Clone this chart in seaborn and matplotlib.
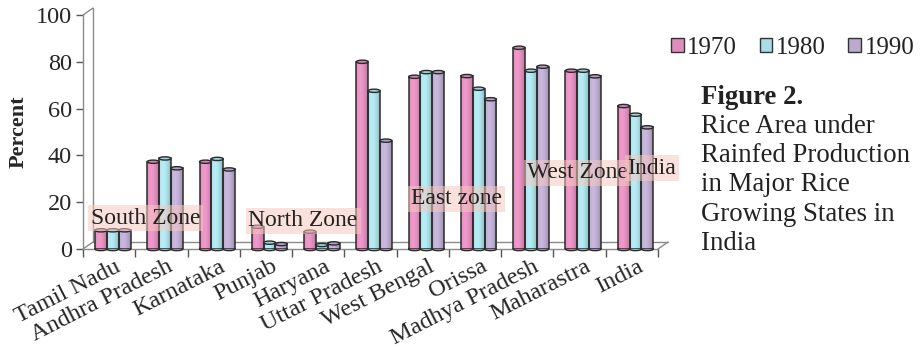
import numpy as np
import pandas as pd
import matplotlib
matplotlib.use("Agg")
import matplotlib.pyplot as plt
from matplotlib.patches import Rectangle, Ellipse
from matplotlib.transforms import ScaledTranslation
from matplotlib.colors import to_rgb
import seaborn as sns

# ---- data -------------------------------------------------------------
states = ["Tamil Nadu", "Andhra Pradesh", "Karnataka", "Punjab", "Haryana",
          "Uttar Pradesh", "West Bengal", "Orissa", "Madhya Pradesh",
          "Maharastra", "India"]
years = ["1970", "1980", "1990"]
pct_1970 = [8.0, 37.3, 37.3, 9.5, 7.4, 80.0, 73.6, 73.9, 86.0, 76.2, 61.1]
pct_1980 = [8.0, 38.7, 38.5, 2.7, 1.7, 67.6, 75.6, 68.5, 76.2, 76.2, 57.4]
pct_1990 = [8.0, 34.5, 34.0, 2.1, 2.4, 46.3, 75.6, 64.0, 77.9, 73.8, 52.0]
yticks = [0, 20, 40, 60, 80, 100]
zones = ["South Zone", "North Zone", "East zone", "West Zone", "India"]
caption_title = "Figure 2."
caption_lines = ["Rice Area under", "Rainfed Production", "in Major Rice",
                 "Growing States in", "India"]

colors = ["#DE8DBB", "#A9DCE3", "#BAAACE"]

df = pd.DataFrame({
    "state": states * 3,
    "year": sum([[y] * len(states) for y in years], []),
    "pct": pct_1970 + pct_1980 + pct_1990,
})

sns.set_theme(style="white")
plt.rcParams["font.family"] = ["Liberation Serif", "DejaVu Serif"]
plt.rcParams["text.color"] = "#222222"

fig = plt.figure(figsize=(9.24, 3.5), dpi=100)
ax = fig.add_axes([83 / 924, 101 / 350, 575 / 924, 234 / 350])

sns.barplot(data=df, x="state", y="pct", hue="year", order=states,
            hue_order=years, palette=colors, width=0.68, gap=0.0,
            edgecolor="none", linewidth=0, saturation=1, legend=False, ax=ax)

n = len(states)
ax.set_xlim(-0.5, n - 0.5)
ax.set_ylim(0, 100)

# depth offset of the pseudo-3D box, and half of it for the bars
depth = ScaledTranslation(7.2 / 72, 5.0 / 72, fig.dpi_scale_trans)
half = ScaledTranslation(2.6 / 72, 0.0, fig.dpi_scale_trans)

edge = "#2a2a2a"
bars = [p for p in ax.patches if isinstance(p, Rectangle) and p.get_height() > 0]
for p in bars:
    x, w, h = p.get_x(), p.get_width(), p.get_height()
    base = np.array(to_rgb(p.get_facecolor()))
    p.set_visible(False)
    tr = ax.transData + half
    # cylindrical shading across the bar
    t = np.linspace(0, 1, 64)
    shade = 0.92 + 0.16 * np.cos((t - 0.35) * np.pi)
    grad = np.clip(base[None, :] * shade[:, None], 0, 1)
    clip = Rectangle((x, 0), w, h, transform=tr)
    im = ax.imshow(grad[None, :, :], extent=[x, x + w, 0, h], aspect="auto",
                   origin="lower", zorder=3, interpolation="bilinear")
    im.set_transform(tr)
    im.set_clip_path(clip)
    ax.add_patch(Rectangle((x, 0), w, h, fill=False, edgecolor=edge,
                           linewidth=1.1, transform=tr, zorder=4))
    # rounded bottom and top of the cylinder
    ax.add_patch(Ellipse((x + w / 2, 0), w, 1.4, facecolor=tuple(base * 0.9),
                         edgecolor=edge, linewidth=1.0, transform=tr, zorder=2.9,
                         clip_on=False))
    ax.add_patch(Ellipse((x + w / 2, h), w, 1.4, facecolor=tuple(np.clip(base * 0.95, 0, 1)),
                         edgecolor=edge, linewidth=1.0, transform=tr, zorder=5))

ax.set_autoscale_on(False)
ax.set_xlim(-0.5, n - 0.5)
ax.set_ylim(0, 100)

# pseudo-3D floor and back wall
frame = "#8a8a8a"
ax.plot([-0.5, n - 0.5], [0, 0], color=frame, lw=1.0, transform=ax.transData + depth,
        zorder=2, clip_on=False)
ax.plot([-0.5, -0.5], [0, 100], color=frame, lw=1.0, transform=ax.transData + depth,
        zorder=2, clip_on=False)
for xx, yy in [(-0.5, 0), (-0.5, 100), (n - 0.5, 0)]:
    p0 = ax.transData.transform((xx, yy))
    p1 = (ax.transData + depth).transform((xx, yy))
    fig.add_artist(plt.Line2D([p0[0] / fig.bbox.width, p1[0] / fig.bbox.width],
                              [p0[1] / fig.bbox.height, p1[1] / fig.bbox.height],
                              color=frame, lw=1.0))

for s in ["top", "right"]:
    ax.spines[s].set_visible(False)
for s in ["left", "bottom"]:
    ax.spines[s].set_color(frame)
    ax.spines[s].set_linewidth(1.0)

ax.set_yticks(yticks)
ax.set_yticklabels([str(v) for v in yticks], fontsize=17.5)
ax.tick_params(axis="y", length=5, width=1.0, color="#555555", pad=3, left=True)
ax.set_xticks(np.arange(n + 1) - 0.5, minor=True)
ax.set_xticks(np.arange(n))
ax.set_xticklabels(states, rotation=27, ha="right", rotation_mode="anchor", fontsize=17.5)
ax.tick_params(axis="x", which="major", length=0, pad=5)
ax.tick_params(axis="x", which="minor", length=6, width=1.0, color="#555555", bottom=True)
for lbl in ax.get_xticklabels():
    lbl.set_transform(lbl.get_transform() + ScaledTranslation(4 / 72, 0, fig.dpi_scale_trans))
ax.set_xlabel("")
ax.set_ylabel("Percent", fontsize=16, fontweight="bold", labelpad=5)

# zone labels on translucent pink boxes
zone_pos = [(0.70, 13.2), (3.71, 12.0), (6.65, 21.4), (8.96, 32.5), (10.38, 34.6)]
for txt, (zx, zy) in zip(zones, zone_pos):
    ax.text(zx, zy, txt, ha="center", va="center", fontsize=17, zorder=8,
            bbox=dict(boxstyle="square,pad=0.12", facecolor="#F6C9C0", alpha=0.55,
                      edgecolor="none"))

# legend
handles = [Rectangle((0, 0), 1, 1, facecolor=c, edgecolor="#333333", linewidth=1.0)
           for c in colors]
fig.legend(handles, years, loc="center left", bbox_to_anchor=(671 / 924, 1 - 48 / 350),
           ncol=3, frameon=False, fontsize=18, handlelength=0.5, handleheight=0.5,
           handletextpad=0.15, columnspacing=0.9, borderpad=0, borderaxespad=0)

# caption
cap_x = 701 / 924
fig.text(cap_x, 1 - 104 / 350, caption_title, fontsize=19.3, fontweight="bold",
         ha="left", va="baseline")
for i, line in enumerate(caption_lines):
    fig.text(cap_x, 1 - (133 + 29.2 * i) / 350, line, fontsize=19.3,
             ha="left", va="baseline")

fig.savefig("out.png", dpi=100)
